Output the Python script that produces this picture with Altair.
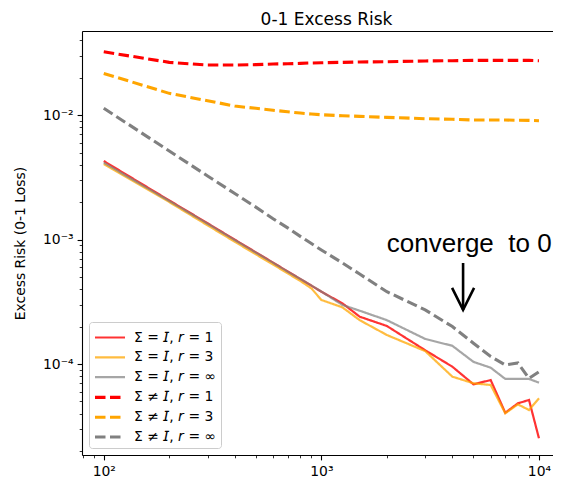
import altair as alt
import pandas as pd

# ---------------- data ----------------
N = [100, 200, 300, 400, 500, 600, 700, 800, 900, 1000, 1250, 1500,
     2000, 3000, 4000, 5000, 6000, 7000, 8000, 9000, 10000]

eq_r1 = [4.27e-3, 2.06e-3, 1.35e-3, 9.97e-4, 7.89e-4, 6.52e-4, 5.54e-4, 4.82e-4, 4.26e-4, 3.81e-4,
         3.07e-4, 2.40e-4, 2.02e-4, 1.29e-4, 9.51e-5, 6.87e-5, 7.43e-5, 4.06e-5, 4.83e-5, 5.14e-5, 2.53e-5]
eq_r3 = [4.04e-3, 2.00e-3, 1.30e-3, 9.6e-4, 7.6e-4, 6.3e-4, 5.35e-4, 4.65e-4, 4.05e-4, 3.27e-4,
         2.85e-4, 2.25e-4, 1.71e-4, 1.27e-4, 7.91e-5, 7.00e-5, 6.78e-5, 4.02e-5, 4.74e-5, 4.27e-5, 5.30e-5]
eq_rinf = [4.15e-3, 2.04e-3, 1.34e-3, 9.9e-4, 7.85e-4, 6.5e-4, 5.52e-4, 4.82e-4, 4.27e-4, 3.82e-4,
           2.98e-4, 2.68e-4, 2.25e-4, 1.59e-4, 1.40e-4, 1.04e-4, 9.34e-5, 7.59e-5, 7.59e-5, 7.59e-5, 7.08e-5]
ne_r1 = [0.0322, 0.0265, 0.0252, 0.0252, 0.0254, 0.0257, 0.0258, 0.0260, 0.0262, 0.0263,
         0.0265, 0.0267, 0.0268, 0.0272, 0.0273, 0.0275, 0.0275, 0.0275, 0.0275, 0.0275, 0.0273]
ne_r3 = [0.0216, 0.01493, 0.01303, 0.01180, 0.01132, 0.01092, 0.01063, 0.01037, 0.01018, 0.01005,
         0.00987, 0.00976, 0.00958, 0.00934, 0.00924, 0.00912, 0.00912, 0.00912, 0.00908, 0.00906, 0.00900]
ne_rinf = [0.01133, 5.14e-3, 3.24e-3, 2.34e-3, 1.82e-3, 1.47e-3, 1.24e-3, 1.06e-3, 9.28e-4, 8.24e-4,
           6.48e-4, 5.28e-4, 3.81e-4, 2.72e-4, 2.00e-4, 1.47e-4, 1.15e-4, 9.82e-5, 1.02e-4, 7.67e-5, 8.67e-5]

series_labels = ["Σ = 𝘐, 𝘳 = 1", "Σ = 𝘐, 𝘳 = 3", "Σ = 𝘐, 𝘳 = ∞",
                 "Σ ≠ 𝘐, 𝘳 = 1", "Σ ≠ 𝘐, 𝘳 = 3", "Σ ≠ 𝘐, 𝘳 = ∞"]
series_values = [eq_r1, eq_r3, eq_rinf, ne_r1, ne_r3, ne_rinf]

title_text = "0-1 Excess Risk"
y_title = "Excess Risk (0-1 Loss)"

annot_text = ["converge\u00a0 to 0"]
annot_N = [2000]
annot_y = [7.94e-4]

arrow_N = [4480]
arrow_top = [6.48e-4]
arrow_tip = [2.72e-4]

x_major = [100, 1000, 10000]
y_major = [1e-4, 1e-3, 1e-2]

# ---------------- tables ----------------
rows = []
for lab, vals in zip(series_labels, series_values):
    for n, v in zip(N, vals):
        rows.append({"N": n, "risk": v, "series": lab})
df = pd.DataFrame(rows)

ann_df = pd.DataFrame({"N": annot_N, "risk": annot_y, "label": annot_text})
arr_df = pd.DataFrame({"N": arrow_N, "top": arrow_top, "tip": arrow_tip})

x_minor = [m * 10 ** k for k in (1, 2, 3) for m in range(2, 10) if 79.5 < m * 10 ** k < 10300]
y_minor = [m * 10.0 ** k for k in (-5, -4, -3, -2) for m in range(2, 10) if 1.9e-5 < m * 10.0 ** k < 0.047]

x_domain = [10 ** 1.9, 10 ** 4.0645]
y_domain = [10 ** -4.731, 10 ** -1.325]

major_test = "abs(log(datum.value)/LN10 - round(log(datum.value)/LN10)) < 0.001"
ex = "round(log(datum.value)/LN10)"

x_label_expr = f"{major_test} ? ({ex} == 2 ? '10²' : {ex} == 3 ? '10³' : '10⁴') : ''"
y_label_expr = f"{major_test} ? ({ex} == -2 ? '10⁻²' : {ex} == -3 ? '10⁻³' : '10⁻⁴') : ''"

tick_size = {"condition": {"test": major_test, "value": 4.9}, "value": 2.8}
tick_width = {"condition": {"test": major_test, "value": 1.1}, "value": 0.8}

FONT = "DejaVu Sans"

x_scale = alt.Scale(type="log", domain=x_domain, nice=False)
y_scale = alt.Scale(type="log", domain=y_domain, nice=False)

x_enc = alt.X("N:Q", scale=x_scale,
              axis=alt.Axis(values=sorted(x_major + x_minor), labelExpr=x_label_expr, title=None,
                            grid=False, domain=True, domainColor="black", domainWidth=1.1,
                            tickSize=tick_size, tickWidth=tick_width,
                            tickColor="black", labelColor="black", labelFont=FONT,
                            labelFontSize=13.9, labelPadding=5, labelOverlap=False,
                            labelFlush=False, labelBound=False))
y_enc = alt.Y("risk:Q", scale=y_scale,
              axis=alt.Axis(values=sorted(y_major + y_minor), labelExpr=y_label_expr,
                            title=y_title, titleFont=FONT, titleFontSize=13.9,
                            titleFontWeight="normal", titleColor="black", titleX=-62, titleY=212,
                            titleAngle=270, titleBaseline="middle", titleAlign="center",
                            grid=False, domain=True, domainColor="black", domainWidth=1.1,
                            tickSize=tick_size, tickWidth=tick_width,
                            tickColor="black", labelColor="black", labelFont=FONT,
                            labelFontSize=13.9, labelPadding=4, labelOverlap=False,
                            labelFlush=False, labelBound=False))

legend = alt.Legend(title=None, orient="none", legendX=7, legendY=291, direction="vertical",
                    symbolType="M-1,0L2,0", symbolSize=400, labelOffset=17,
                    labelFont=FONT, labelFontSize=13.9, labelColor="black", labelBaseline="middle",
                    fillColor="rgba(255,255,255,0.8)", strokeColor="#cccccc", cornerRadius=3,
                    padding=4, rowPadding=0.8, labelLimit=300)

line_colors = ["rgba(255,0,0,0.8)", "rgba(255,165,0,0.75)", "rgba(128,128,128,0.7)",
               "#ff0000", "#ffa500", "#808080"]

lines = alt.Chart(df).mark_line(clip=True).encode(
    x=x_enc,
    y=y_enc,
    color=alt.Color("series:N", scale=alt.Scale(domain=series_labels, range=line_colors),
                    legend=legend),
    strokeDash=alt.StrokeDash("series:N", scale=alt.Scale(type="ordinal", domain=series_labels,
                              range=[[1, 0], [1, 0], [1, 0], [10.5, 4.5], [10.5, 4.5], [10.5, 4.5]])),
    strokeWidth=alt.StrokeWidth("series:N", scale=alt.Scale(type="ordinal", domain=series_labels,
                                range=[2.2, 2.2, 2.2, 3.1, 3.1, 3.1])),
)

# annotation layer also carries the top spine (an x axis on top without ticks/labels)
annot = alt.Chart(ann_df).mark_text(align="left", baseline="alphabetic", font="Liberation Sans",
                                    fontSize=26, color="black").encode(
    x=alt.X("N:Q", scale=x_scale,
            axis=alt.Axis(orient="top", labels=False, ticks=False, domain=True, domainColor="black",
                          domainWidth=1.1, title=None, grid=False)),
    y=alt.Y("risk:Q", scale=y_scale),
    text="label:N")

shaft = alt.Chart(arr_df).mark_rule(color="black", strokeWidth=2.6).encode(
    x=alt.X("N:Q", scale=x_scale, axis=None),
    y=alt.Y("top:Q", scale=y_scale),
    y2=alt.Y2("tip:Q"))

head = alt.Chart(arr_df).mark_point(shape="M-0.5,-1L0,0L0.5,-1", size=1936, filled=False,
                                    color="black", strokeWidth=2.6, opacity=1).encode(
    x=alt.X("N:Q", scale=x_scale, axis=None),
    y=alt.Y("tip:Q", scale=y_scale))

chart = alt.layer(lines, annot, shaft, head).resolve_axis(x="independent").properties(
    width=471, height=424,
    title=alt.TitleParams(title_text, font=FONT, fontSize=17, fontWeight="normal", color="black",
                          anchor="middle", dx=9, dy=17, offset=6, baseline="alphabetic", frame="group"),
    autosize=alt.AutoSizeParams(type="none"),
    padding={"left": 74, "top": 23, "right": 0, "bottom": 25},
).configure_view(stroke=None).configure(font=FONT)

chart.save("out.html", embed_options={"renderer": "svg", "actions": False})
